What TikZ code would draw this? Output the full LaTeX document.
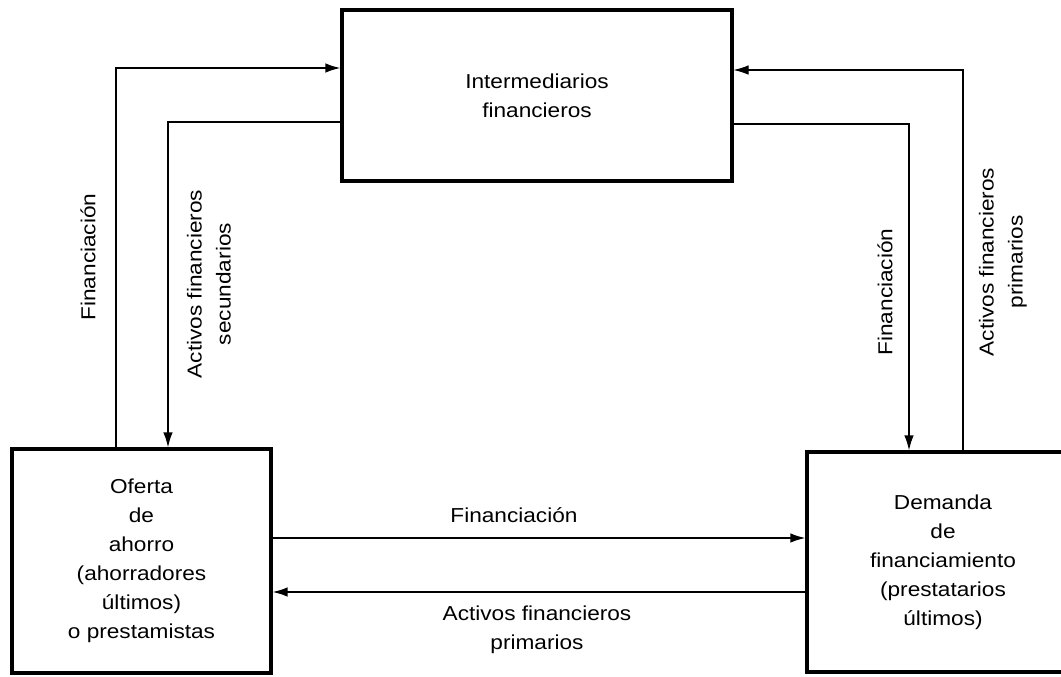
\documentclass[tikz,border=0pt]{standalone}
\usepackage{fontspec}
\setsansfont[FakeStretch=1.12]{Liberation Sans}
\usetikzlibrary{arrows.meta,calc}

\tikzset{
    caja/.style={draw, line width=1.8pt, rectangle, align=center,
        inner sep=0pt},
    flujo/.style={line width=0.9pt, -{Latex[length=0.3cm,width=0.19cm]}},
    rotulo/.style={align=center},
}

\begin{document}
\begin{tikzpicture}[x=0.02cm, y=-0.02cm,
        every node/.style={font=\sffamily\fontsize{11.5}{16.5}\selectfont}]
        \clip (0,0) rectangle (1061,676);
        % las tres cajas
        \node[caja, minimum width=7.8cm, minimum height=3.42cm] (inter) at (537,95.5)
        {Intermediarios\\financieros};
        \node[caja, minimum width=5.18cm, minimum height=4.48cm] (oferta) at (141.5,561)
        {Oferta\\de\\ahorro\\(ahorradores\\últimos)\\o prestamistas};
        \node[caja, minimum width=5.44cm, minimum height=4.4cm] (demanda) at (943,562)
        {Demanda\\de\\financiamiento\\(prestatarios\\últimos)};

        % flujos por la izquierda
        \draw[flujo] ([xshift=-0.51cm]oferta.north) |- ([yshift=0.55cm]inter.west);
        \draw[flujo] ([yshift=-0.53cm]inter.west) -| ([xshift=0.53cm]oferta.north);
        % flujos por la derecha
        \draw[flujo] ([yshift=-0.57cm]inter.east) -| ([xshift=-0.68cm]demanda.north);
        \draw[flujo, line width=0.6pt] ([xshift=0.4cm]demanda.north) |- ([yshift=0.51cm]inter.east);
        % flujos directos
        \draw[flujo] ($(oferta.east)+(0,-23)$) -- ($(oferta.east -| demanda.west)+(0,-23)$);
        \draw[flujo] ($(oferta.east -| demanda.west)+(0,31)$) -- ($(oferta.east)+(0,31)$);

        % rotulos
        \node[rotulo, rotate=90] (finizq) at (88,257) {Financiación};
        \node[rotulo, rotate=90] (secund) at (209,284) {Activos financieros\\secundarios};
        \node[rotulo, rotate=90] (finder) at (885,292) {Financiación};
        \node[rotulo, rotate=90] (primder) at (1003,262) {Activos financieros\\primarios};
        \node[rotulo] (finbajo) at (514,515) {Financiación};
        \node[rotulo] (primbajo) at (537,630) {Activos financieros\\primarios};
\end{tikzpicture}
\end{document}
